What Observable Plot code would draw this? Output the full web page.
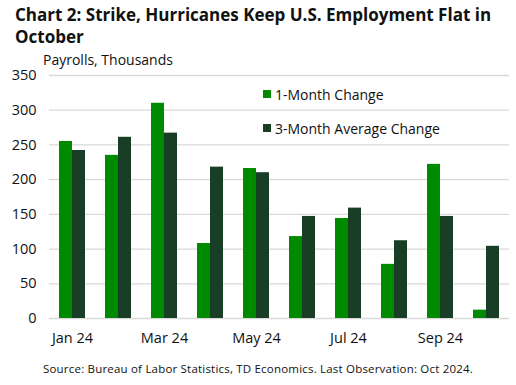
<!DOCTYPE html>
<html>
<head>
<meta charset="utf-8">
<script src="https://cdn.jsdelivr.net/npm/d3@7"></script>
<script src="https://cdn.jsdelivr.net/npm/@observablehq/plot@0.6"></script>
<style>
  html, body { margin: 0; padding: 0; background: #fff; }
  body { width: 516px; height: 385px; overflow: hidden; font-family: "Open Sans", "Liberation Sans", sans-serif; color: #111; }
  #wrap { position: relative; width: 516px; height: 385px; }
  #title { position: absolute; left: 15px; top: 4px; width: 480px; font-size: 17px; font-weight: 700; line-height: 22px; color: #111; }
  #subtitle { position: absolute; left: 43px; top: 50px; font-size: 14px; color: #111; }
  #chart { position: absolute; left: 0; top: 58px; }
  #legend { position: absolute; left: 263px; top: 77px; font-size: 14px; color: #111; }
  .li { display: flex; align-items: center; height: 34px; }
  .sw { width: 8px; height: 8px; margin-right: 4px; }
  #caption { position: absolute; left: 0; width: 516px; top: 361px; text-align: center; font-size: 11.5px; color: #111; letter-spacing: 0.2px; }
</style>
</head>
<body>
<div id="wrap">
  <div id="title">Chart 2: Strike, Hurricanes Keep U.S. Employment Flat in October</div>
  <div id="subtitle">Payrolls, Thousands</div>
  <div id="chart"></div>
  <div id="legend"></div>
  <div id="caption">Source: Bureau of Labor Statistics, TD Economics. Last Observation: Oct 2024.</div>
</div>
<script>
const months = ["Jan 24","Feb 24","Mar 24","Apr 24","May 24","Jun 24","Jul 24","Aug 24","Sep 24","Oct 24"];
const tickLabels = ["Jan 24","Mar 24","May 24","Jul 24","Sep 24"];
const series = ["1-Month Change","3-Month Average Change"];
const colors = ["#008a00","#183f25"];
const oneMonth = [255,235,310,108,216,118,144,78,222,12];
const threeMonth = [242,261,267,218,210,147,159,112,147,104];
const yTicks = [0,50,100,150,200,250,300,350];

const data = [];
months.forEach((m,i) => {
  data.push({month: m, series: series[0], value: oneMonth[i]});
  data.push({month: m, series: series[1], value: threeMonth[i]});
});

const chart = Plot.plot({
  width: 516,
  height: 290,
  marginLeft: 44,
  marginRight: 3,
  marginTop: 17,
  marginBottom: 30,
  style: {fontFamily: "'Open Sans', sans-serif", fontSize: "14.5px", color: "#111", background: "transparent"},
  fx: {domain: months, padding: 0, label: null, axis: "bottom", tickSize: 0, tickPadding: 14,
       tickFormat: d => tickLabels.includes(d) ? d : ""},
  x: {domain: series, paddingInner: 0, paddingOuter: 0.74, axis: null},
  y: {domain: [0,350], ticks: yTicks, label: null, tickSize: 0, tickPadding: 13},
  color: {domain: series, range: colors},
  marks: [
    Plot.ruleY(yTicks, {stroke: "#d9d9d9", strokeWidth: 1.3}),
    Plot.barY(data, {fx: "month", x: "series", y: "value", fill: "series"})
  ]
});
document.getElementById("chart").appendChild(chart);

const legend = document.getElementById("legend");
series.forEach((s,i) => {
  const row = document.createElement("div");
  row.className = "li";
  const sw = document.createElement("span");
  sw.className = "sw";
  sw.style.background = colors[i];
  const t = document.createElement("span");
  t.textContent = s;
  row.appendChild(sw); row.appendChild(t);
  legend.appendChild(row);
});
</script>
</body>
</html>
